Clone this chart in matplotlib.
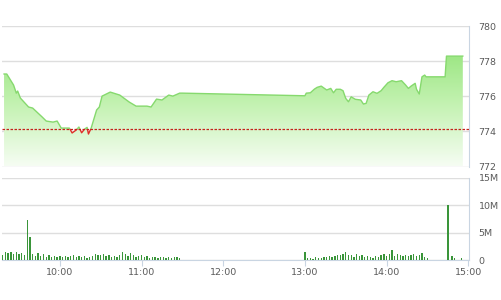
import numpy as np
import matplotlib
matplotlib.use("Agg")
import matplotlib.pyplot as plt
from matplotlib.colors import LinearSegmentedColormap
from matplotlib.patches import Rectangle

# ---- price (intraday index) ----
price_times = [
    "09:19", "09:21", "09:26", "09:28", "09:29", "09:31", "09:37", "09:40",
    "09:47", "09:50", "09:55", "09:58", "10:01", "10:07", "10:09", "10:12",
    "10:14", "10:16", "10:18", "10:20", "10:21", "10:23", "10:27", "10:29",
    "10:31", "10:37", "10:44", "10:51", "10:56", "11:04", "11:07", "11:11",
    "11:15", "11:20", "11:23", "11:28", "11:30", "13:00", "13:01", "13:04",
    "13:07", "13:09", "13:12", "13:16", "13:19", "13:21", "13:23", "13:26",
    "13:28", "13:30", "13:32", "13:34", "13:37", "13:41", "13:43", "13:45",
    "13:47", "13:50", "13:53", "13:56", "13:58", "14:01", "14:04", "14:07",
    "14:11", "14:14", "14:16", "14:18", "14:21", "14:22", "14:24", "14:26",
    "14:28", "14:29", "14:43", "14:44", "14:56",
]
price_values = [
    777.27, 777.27, 776.64, 776.18, 776.30, 775.90, 775.39, 775.33,
    774.82, 774.59, 774.53, 774.59, 774.19, 774.19, 773.91, 774.08,
    774.25, 773.92, 774.12, 774.23, 773.85, 774.19, 775.22, 775.39,
    776.01, 776.24, 776.07, 775.67, 775.44, 775.44, 775.39, 775.84,
    775.79, 776.07, 776.01, 776.18, 776.18, 776.03, 776.18, 776.20,
    776.41, 776.51, 776.58, 776.36, 776.45, 776.20, 776.40, 776.40,
    776.32, 775.88, 775.69, 775.97, 775.83, 775.79, 775.56, 775.60,
    776.07, 776.26, 776.17, 776.32, 776.51, 776.77, 776.89, 776.83,
    776.89, 776.64, 776.45, 776.58, 776.74, 776.40, 776.13, 777.11,
    777.21, 777.11, 777.11, 778.29, 778.29,
]
ref_price = 774.12

# ---- volume (millions), 2-minute bars ----
vol_am_start = "09:18"
vol_am = [
    1.0, 1.5, 1.3, 1.4, 1.2, 1.5, 1.1, 1.3, 0.9, 7.3, 4.3, 1.2, 0.8, 1.3,
    0.7, 1.1, 0.6, 0.9, 0.5, 0.8, 0.6, 0.7, 0.6, 0.8, 0.6, 0.7, 0.9, 0.6,
    0.8, 0.5, 0.7, 0.4, 0.6, 0.8, 1.2, 1.0, 0.9, 1.1, 0.7, 0.9, 0.6, 0.8,
    0.5, 0.9, 1.5, 1.1, 0.7, 1.3, 0.9, 0.6, 0.8, 0.9, 0.5, 0.7, 0.4, 0.6,
    0.5, 0.4, 0.6, 0.5, 0.4, 0.5, 0.3, 0.5, 0.6, 0.3,
]
vol_pm_start = "13:00"
vol_pm = [
    1.5, 0.3, 0.4, 0.2, 0.5, 0.3, 0.4, 0.6, 0.5, 0.7, 0.6, 0.8, 1.0, 0.9,
    1.1, 1.5, 0.9, 1.0, 0.6, 1.1, 0.7, 0.9, 0.5, 0.8, 0.6, 0.4, 0.7, 0.5,
    0.9, 1.1, 0.7, 1.2, 1.8, 0.8, 1.1, 0.9, 0.7, 1.0, 0.8, 0.9, 1.2, 0.7,
    1.0, 1.3, 0.6, 0.3,
]
vol_close_times = ["14:45", "14:48", "14:50", "14:55"]
vol_close = [10.0, 0.7, 0.3, 0.4]

hour_ticks = ["10:00", "11:00", "12:00", "13:00", "14:00", "15:00"]


def to_min(s):
    h, m = s.split(":")
    return (int(h) - 9) * 60 + int(m)


t_price = np.array([to_min(s) for s in price_times], dtype=float)
p = np.array(price_values)

t_vol = np.concatenate([
    to_min(vol_am_start) + 2 * np.arange(len(vol_am)),
    to_min(vol_pm_start) + 2 * np.arange(len(vol_pm)),
    [to_min(s) for s in vol_close_times],
])
v = np.concatenate([vol_am, vol_pm, vol_close])

x_lo, x_hi = 17.5, 360.5
grid_c = "#dedede"
axis_c = "#c9d5e2"
text_c = "#5a5a5a"

fig = plt.figure(figsize=(5.01, 3.0), dpi=100)
ax = fig.add_axes([0.004, 0.445, 0.932, 0.468])
axv = fig.add_axes([0.004, 0.133, 0.932, 0.274])

# ---- price panel ----
ax.set_xlim(x_lo, x_hi)
ax.set_ylim(772, 780)

poly = ax.fill_between(t_price, p, 772, color="none", lw=0)
cmap = LinearSegmentedColormap.from_list("g", ["#f6fdf3", "#c4f2b2", "#94e47a"])
grad = np.linspace(0, 1, 256).reshape(-1, 1)
im = ax.imshow(grad, extent=[x_lo, x_hi, 772, 779.0], origin="lower",
               aspect="auto", cmap=cmap, zorder=1)
im.set_clip_path(poly.get_paths()[0], transform=ax.transData)

green_line, = ax.plot(t_price, p, color="#86d96e", lw=1.0, zorder=3)
red_line, = ax.plot(t_price, p, color="#e0302a", lw=1.0, zorder=3)
clip_up = Rectangle((x_lo, ref_price), x_hi - x_lo, 10, transform=ax.transData)
clip_dn = Rectangle((x_lo, 760), x_hi - x_lo, ref_price - 760, transform=ax.transData)
green_line.set_clip_path(clip_up)
red_line.set_clip_path(clip_dn)

ax.axhline(ref_price, color="#c4221c", lw=0.9, ls=(0, (2, 1.2)), zorder=4)

ax.set_yticks([772, 774, 776, 778, 780])
ax.yaxis.tick_right()
ax.tick_params(axis="y", length=0, pad=7, labelsize=6.8, colors=text_c)
ax.set_xticks([])
ax.grid(axis="y", color=grid_c, lw=1)
ax.set_axisbelow(True)
for s in ["top", "left", "bottom"]:
    ax.spines[s].set_visible(False)
ax.spines["right"].set_color(axis_c)
ax.spines["right"].set_linewidth(0.8)

# ---- volume panel ----
axv.bar(t_vol, v, width=1.0, color="#3a953a", lw=0, zorder=3)
axv.set_xlim(x_lo, x_hi)
axv.set_ylim(0, 15)
axv.set_yticks([0, 5, 10, 15])
axv.set_yticklabels(["0", "5M", "10M", "15M"])
axv.yaxis.tick_right()
axv.tick_params(axis="y", length=0, pad=7, labelsize=6.8, colors=text_c)
axv.set_xticks([to_min(s) for s in hour_ticks])
axv.set_xticklabels(hour_ticks)
axv.tick_params(axis="x", length=4, width=0.8, labelsize=6.8, pad=2,
                colors=axis_c, labelcolor=text_c)
axv.grid(axis="y", color=grid_c, lw=1)
axv.set_axisbelow(True)
for s in ["top", "left"]:
    axv.spines[s].set_visible(False)
for s in ["right", "bottom"]:
    axv.spines[s].set_color(axis_c)
    axv.spines[s].set_linewidth(0.8)

fig.savefig("out.png", dpi=100)
